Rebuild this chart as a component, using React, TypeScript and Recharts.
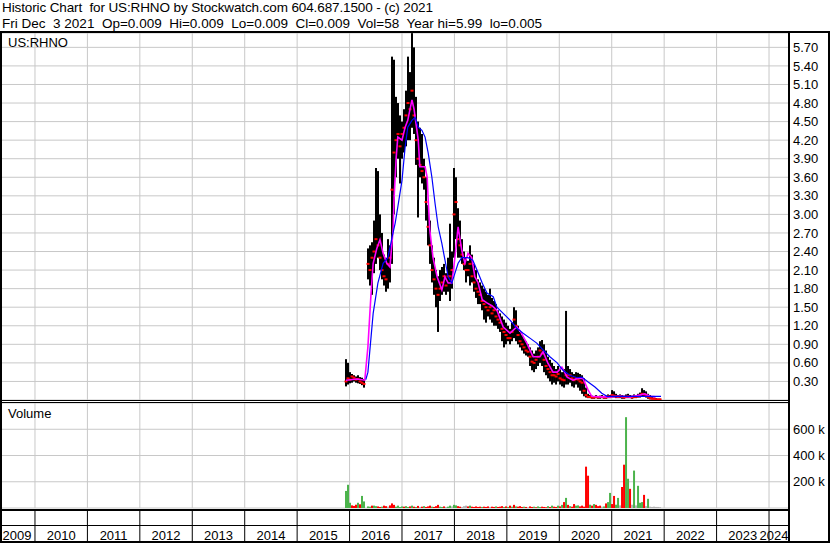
import React from "react";
import {
  ComposedChart,
  Bar,
  Line,
  Scatter,
  XAxis,
  YAxis,
  CartesianGrid,
  Cell,
} from "recharts";

const FONT = "'Liberation Sans', Arial, Helvetica, sans-serif";

// axes
const YEARS = [2010, 2011, 2012, 2013, 2014, 2015, 2016, 2017, 2018, 2019, 2020, 2021, 2022, 2023, 2024];
const PRICE_TICKS = [0.3, 0.6, 0.9, 1.2, 1.5, 1.8, 2.1, 2.4, 2.7, 3.0, 3.3, 3.6, 3.9, 4.2, 4.5, 4.8, 5.1, 5.4, 5.7];
const VOLUME_TICKS = [200, 400, 600];
const X_MIN = 2009.352;
const X_MAX = 2024.381;
const PRICE_MAX = 5.932;
const VOLUME_MAX = 800;

// two-week bars from late Nov 2015 to Dec 3 2021
const FIRST_BAR = 2015.932;
const BAR_STEP = 0.03815;

const HIGH = [
  0.66, 0.6, 0.45, 0.42, 0.4, 0.38, 0.4, 0.37, 0.36, 0.34,
  null, 2.45, 2.5, 2.55, 2.9, 3.75, 3.7, 3.0, 2.7, 2.35,
  2.3, 2.6, 2.5, 5.55, 5.5, 4.9, 4.8, 4.6, 4.5, 4.7,
  5.0, 5.55, 5.3, 5.93, 5.7, 4.9, 4.5, 4.4, 4.3, 3.9,
  3.6, 3.15, 2.9, 2.5, 2.3, 2.1, 2.0, 2.1, 2.15, 2.2,
  2.05, 2.3, 2.85, 2.4, 3.75, 3.6, 3.1, 2.9, 2.6, 2.4,
  2.3, 2.25, 2.5, 2.35, 2.2, 2.1, 1.95, 1.9, 1.85, 1.8,
  1.75, 1.7, 1.8, 1.65, 1.6, 1.55, 1.45, 1.4, 1.35, 1.3,
  1.25, 1.2, 1.15, 1.25, 1.5, 1.45, 1.2, 1.1, 1.05, 1.0,
  0.95, 0.9, 0.85, 0.8, 0.75, 0.8, 0.85, 0.95, 0.97, 0.9,
  0.8, 0.7, 0.65, 0.6, 0.55, 0.5, 0.55, 0.5, 0.45, 0.5,
  1.44, 0.55, 0.5, 0.45, 0.42, 0.45, 0.44, 0.42, 0.4, 0.35,
  0.2, 0.1, 0.08, 0.07, 0.06, 0.08, 0.06, 0.07, 0.08, 0.06,
  0.07, 0.09, 0.08, 0.16, 0.14, 0.1, 0.08, 0.09, 0.08, 0.07,
  0.09, 0.1, 0.08, 0.07, 0.09, 0.08, 0.1, 0.12, 0.19, 0.16,
  0.14, 0.1, 0.08, 0.06, 0.04, 0.03, 0.02, 0.02,
];
const LOW = [
  0.22, 0.25, 0.27, 0.28, 0.3, 0.28, 0.27, 0.26, 0.24, 0.2,
  null, 1.95, 1.85, 1.7, 2.05, 2.2, 2.3, 2.1, 1.95, 1.85,
  1.75, 1.8, 1.9, 2.2, 3.0, 3.6, 3.9, 3.5, 3.9, 4.0,
  4.1, 4.2, 4.2, 4.4, 4.3, 3.8, 2.95, 3.6, 3.5, 3.4,
  2.9, 2.5, 2.2, 1.9, 1.7, 1.5, 1.1, 1.6, 1.7, 1.75,
  1.7, 1.75, 1.6, 1.8, 2.3, 2.6, 2.3, 2.3, 2.2, 2.1,
  1.9, 2.0, 1.85, 1.9, 1.75, 1.65, 1.55, 1.55, 1.45, 1.3,
  1.25, 1.35, 1.3, 1.25, 1.2, 1.2, 1.15, 1.1, 0.95, 0.85,
  0.9, 0.95, 0.9, 0.95, 1.0, 0.95, 0.9, 0.85, 0.8, 0.75,
  0.72, 0.7, 0.55, 0.48, 0.45, 0.5, 0.55, 0.6, 0.55, 0.45,
  0.4, 0.35, 0.3, 0.25, 0.28, 0.25, 0.3, 0.25, 0.22, 0.2,
  0.25, 0.25, 0.28, 0.22, 0.2, 0.25, 0.2, 0.15, 0.1, 0.06,
  0.04, 0.03, 0.03, 0.02, 0.02, 0.03, 0.02, 0.02, 0.03, 0.02,
  0.02, 0.03, 0.03, 0.04, 0.04, 0.03, 0.03, 0.03, 0.02, 0.02,
  0.03, 0.03, 0.03, 0.02, 0.03, 0.03, 0.04, 0.04, 0.05, 0.05,
  0.04, 0.02, 0.01, 0.01, 0.01, 0.01, 0.005, 0.005,
];
const CLOSE = [
  0.3, 0.35, 0.33, 0.38, 0.36, 0.33, 0.34, 0.3, 0.28, 0.26,
  null, 2.2, 2.1, 2.3, 2.4, 2.6, 2.5, 2.3, 2.1, 2.0,
  1.95, 2.2, 2.3, 3.4, 4.0, 4.2, 4.3, 4.1, 4.3, 4.4,
  4.6, 4.8, 4.7, 5.0, 4.6, 4.2, 3.9, 3.8, 3.7, 3.6,
  3.2, 2.8, 2.5, 2.1, 1.95, 1.8, 1.7, 1.8, 1.9, 2.0,
  1.85, 2.0, 2.0, 2.1, 3.0, 3.2, 2.6, 2.5, 2.35, 2.2,
  2.1, 2.1, 2.2, 2.0, 1.9, 1.8, 1.75, 1.7, 1.6, 1.55,
  1.5, 1.45, 1.5, 1.4, 1.45, 1.35, 1.3, 1.25, 1.15, 1.1,
  1.05, 1.0, 1.0, 1.1, 1.3, 1.2, 1.05, 0.95, 0.9, 0.85,
  0.8, 0.78, 0.7, 0.62, 0.6, 0.65, 0.7, 0.8, 0.75, 0.65,
  0.55, 0.5, 0.45, 0.4, 0.4, 0.38, 0.42, 0.35, 0.33, 0.32,
  0.4, 0.4, 0.4, 0.35, 0.32, 0.35, 0.33, 0.3, 0.28, 0.15,
  0.08, 0.05, 0.05, 0.04, 0.04, 0.05, 0.04, 0.05, 0.05, 0.04,
  0.04, 0.06, 0.05, 0.08, 0.07, 0.06, 0.05, 0.06, 0.05, 0.04,
  0.05, 0.06, 0.05, 0.04, 0.05, 0.05, 0.06, 0.08, 0.1, 0.09,
  0.08, 0.05, 0.03, 0.02, 0.02, 0.01, 0.01, 0.01,
];

// volume in thousands; g = up, r = down, n = unchanged
const VOLUME = [
  130, 177, 40, 20, 16, 25, 40, 28, 92, 50,
  0, 12, 10, 18, 18, 14, 12, 8, 10, 18,
  14, 10, 20, 35, 24, 10, 18, 8, 12, 10,
  14, 8, 12, 18, 10, 8, 16, 8, 10, 14,
  8, 12, 18, 10, 8, 14, 24, 10, 8, 12,
  8, 10, 18, 12, 24, 20, 14, 10, 8, 14,
  18, 12, 18, 10, 8, 12, 8, 10, 8, 10,
  8, 12, 8, 10, 8, 12, 8, 10, 14, 8,
  12, 8, 18, 10, 24, 12, 10, 14, 8, 10,
  8, 6, 12, 8, 10, 6, 12, 8, 10, 8,
  6, 14, 8, 18, 10, 8, 18, 12, 24, 45,
  77, 24, 14, 10, 30, 18, 20, 12, 18, 10,
  315, 246, 25, 18, 30, 24, 14, 18, 10, 12,
  35, 45, 115, 30, 92, 25, 77, 20, 160, 330,
  692, 223, 146, 25, 285, 20, 169, 40, 45, 100,
  14, 70, 10, 8, 10, 8, 8, 6,
];
const VOLUME_DIR =
  "gggrrrgrgg" + "nggrggrrgr" + "rnrrrggggr" + "ggrgrgrnrg" +
  "rrrgrrrggr" + "nggnggrrnn" + "nrgrrrrrgr" + "rrnrrgrrrg" +
  "rgrgrgrrrg" + "rnrrgrggrr" + "rgrgrrgrgr" + "grgrrggrrr" +
  "rrgrgrrrng" + "rggrrggnrr" + "ggrngngggr" + "ngnnnnnn";

// moving averages
const FAST_T = [
  2015.93, 2016.14, 2016.29, 2016.35, 2016.41, 2016.45, 2016.52, 2016.58, 2016.64, 2016.71,
  2016.77, 2016.83, 2016.85, 2016.89, 2016.92, 2017.0, 2017.06, 2017.11, 2017.19, 2017.23,
  2017.31, 2017.34, 2017.44, 2017.48, 2017.5, 2017.53, 2017.59, 2017.67, 2017.76, 2017.82,
  2017.88, 2017.95, 2018.01, 2018.07, 2018.14, 2018.2, 2018.26, 2018.33, 2018.39, 2018.45,
  2018.53, 2018.62, 2018.72, 2018.81, 2018.93, 2019.06, 2019.19, 2019.25, 2019.38, 2019.5,
  2019.63, 2019.69, 2019.78, 2019.88, 2019.96, 2020.05, 2020.15, 2020.26, 2020.36, 2020.45,
  2020.55, 2020.62, 2020.78, 2020.97, 2021.16, 2021.35, 2021.54, 2021.63, 2021.73, 2021.84,
];
const FAST_MA = [
  0.32, 0.34, 0.32, 0.86, 1.73, 2.21, 2.45, 2.59, 2.37, 2.21,
  2.15, 2.75, 3.28, 3.93, 4.25, 4.2, 4.41, 4.52, 4.85, 4.7,
  4.2, 3.77, 3.77, 3.6, 3.23, 2.75, 2.31, 1.99, 1.78, 1.99,
  1.89, 1.89, 2.31, 2.8, 2.42, 2.21, 2.37, 2.3, 1.99, 1.9,
  1.62, 1.57, 1.52, 1.45, 1.18, 1.08, 1.18, 1.12, 0.92, 0.7,
  0.7, 0.78, 0.6, 0.45, 0.45, 0.53, 0.37, 0.32, 0.35, 0.35,
  0.16, 0.06, 0.05, 0.05, 0.06, 0.05, 0.08, 0.1, 0.06, 0.05,
];
const SLOW_T = [
  2016.31, 2016.35, 2016.45, 2016.54, 2016.64, 2016.73, 2016.81, 2016.87, 2016.92, 2017.0,
  2017.06, 2017.11, 2017.19, 2017.25, 2017.31, 2017.38, 2017.44, 2017.5, 2017.57, 2017.63,
  2017.69, 2017.76, 2017.82, 2017.88, 2017.95, 2018.01, 2018.07, 2018.14, 2018.26, 2018.35,
  2018.43, 2018.53, 2018.62, 2018.74, 2018.81, 2018.93, 2019.06, 2019.19, 2019.31, 2019.44,
  2019.57, 2019.69, 2019.82, 2019.96, 2020.07, 2020.2, 2020.34, 2020.43, 2020.55, 2020.68,
  2020.81, 2020.91, 2021.35, 2021.94,
];
const SLOW_MA = [
  0.33, 0.45, 1.4, 1.89, 2.21, 2.3, 2.63, 2.86, 3.12, 3.55,
  4.09, 4.41, 4.52, 4.57, 4.41, 4.36, 4.25, 3.99, 3.6, 3.18,
  2.8, 2.53, 2.26, 1.99, 1.89, 2.05, 2.21, 2.3, 2.3, 2.26,
  2.1, 1.89, 1.73, 1.67, 1.5, 1.4, 1.29, 1.16, 1.08, 1.0,
  0.92, 0.81, 0.7, 0.6, 0.48, 0.4, 0.36, 0.37, 0.29, 0.21,
  0.11, 0.06, 0.06, 0.06,
];

const DIR_COLORS: Record<string, string> = { g: "#4cb34c", r: "#ff0000", n: "#b0b0b0" };

// high-low bars: an invisible base (low) stacked with the span up to the high
const priceRows = HIGH.map((h, i) => ({
  t: FIRST_BAR + i * BAR_STEP,
  low: h == null ? null : LOW[i],
  span: h == null ? null : Math.max(h - (LOW[i] as number), 0.012),
  close: CLOSE[i],
}));
const volumeRows = VOLUME.map((v, i) => ({
  t: FIRST_BAR + i * BAR_STEP,
  v,
  dir: VOLUME_DIR[i],
}));
const fastRows = FAST_T.map((t, i) => ({ t, v: FAST_MA[i] }));
const slowRows = SLOW_T.map((t, i) => ({ t, v: SLOW_MA[i] }));

const PLOT_LEFT = 1;
const PLOT_RIGHT = 789;
const AXIS_W = 41;
const YEAR_PX = (PLOT_RIGHT - PLOT_LEFT) / (X_MAX - X_MIN);

const tickStyle = { fontSize: 13, fill: "#000", fontFamily: FONT };

const CloseMark = (p: any) => {
  if (p.cy == null || !Number.isFinite(p.cy)) return <g />;
  return <rect x={p.cx - 1.5} y={p.cy - 1} width={3} height={2} fill="#ff0000" />;
};

const clampLabel = (c: number) => Math.min(Math.max(c, PLOT_LEFT + 16), PLOT_RIGHT - 15);

const YearTick = (p: any) => {
  const x = p.x;
  const year = p.payload.value;
  const labels = [{ text: year - 1, cx: clampLabel(x - YEAR_PX / 2) }];
  if (year === YEARS[YEARS.length - 1]) {
    labels.push({ text: year, cx: clampLabel(x + YEAR_PX / 2) });
  }
  return (
    <g>
      <line x1={x} x2={x} y1={106} y2={138} stroke="#000" strokeWidth={1} />
      {labels.map((l) => (
        <text key={l.text} x={l.cx} y={136.5} textAnchor="middle" {...tickStyle}>
          {l.text}
        </text>
      ))}
    </g>
  );
};

export default function App() {
  return (
    <div
      style={{
        position: "absolute",
        left: 0,
        top: 0,
        width: 830,
        height: 543,
        background: "#fff",
        overflow: "hidden",
      }}
    >
      {/* price bars, closes, grid and price axis */}
      <div style={{ position: "absolute", left: 0, top: 33 }}>
        <ComposedChart
          width={830}
          height={367}
          data={priceRows}
          margin={{ top: 0, right: 0, bottom: 0, left: PLOT_LEFT }}
        >
          <CartesianGrid stroke="#c8c8c8" />
          <XAxis
            dataKey="t"
            type="number"
            domain={[X_MIN, X_MAX]}
            ticks={YEARS}
            allowDataOverflow
            hide
          />
          <YAxis
            orientation="right"
            width={AXIS_W}
            domain={[0, PRICE_MAX]}
            ticks={PRICE_TICKS}
            interval={0}
            allowDataOverflow
            axisLine={false}
            tickLine={false}
            tickSize={0}
            tickMargin={4}
            tick={tickStyle}
            tickFormatter={(v: number) => v.toFixed(2)}
          />
          <Bar dataKey="low" stackId="hl" barSize={2} fill="transparent" isAnimationActive={false} />
          <Bar dataKey="span" stackId="hl" barSize={2} fill="#000" isAnimationActive={false} />
          <Scatter dataKey="close" shape={CloseMark} isAnimationActive={false} />
        </ComposedChart>
      </div>

      {/* moving averages on the same scales */}
      <div style={{ position: "absolute", left: 0, top: 33 }}>
        <ComposedChart
          width={830}
          height={367}
          margin={{ top: 0, right: AXIS_W, bottom: 0, left: PLOT_LEFT }}
        >
          <XAxis dataKey="t" type="number" domain={[X_MIN, X_MAX]} allowDataOverflow hide />
          <YAxis domain={[0, PRICE_MAX]} allowDataOverflow hide />
          <Line
            data={fastRows}
            dataKey="v"
            stroke="#ff00ff"
            strokeWidth={1.6}
            dot={false}
            isAnimationActive={false}
          />
          <Line
            data={slowRows}
            dataKey="v"
            stroke="#0000ff"
            strokeWidth={1.2}
            dot={false}
            isAnimationActive={false}
          />
        </ComposedChart>
      </div>

      <div style={{ position: "absolute", left: 0, top: 403 }}>
        <ComposedChart
          width={830}
          height={140}
          data={volumeRows}
          margin={{ top: 0, right: 0, bottom: 0, left: PLOT_LEFT }}
        >
          <CartesianGrid stroke="#c8c8c8" />
          <XAxis
            dataKey="t"
            type="number"
            domain={[X_MIN, X_MAX]}
            ticks={YEARS}
            interval={0}
            allowDataOverflow
            height={35}
            axisLine={false}
            tickLine={false}
            tick={(p: any) => <YearTick {...p} />}
          />
          <YAxis
            orientation="right"
            width={AXIS_W}
            domain={[0, VOLUME_MAX]}
            ticks={VOLUME_TICKS}
            interval={0}
            allowDataOverflow
            axisLine={false}
            tickLine={false}
            tickSize={0}
            tickMargin={4}
            tick={tickStyle}
            tickFormatter={(v: number) => `${v} k`}
          />
          <Bar dataKey="v" barSize={2} isAnimationActive={false}>
            {volumeRows.map((r, i) => (
              <Cell key={`v-${i}`} fill={DIR_COLORS[r.dir]} />
            ))}
          </Bar>
        </ComposedChart>
      </div>

      <svg
        width={830}
        height={543}
        style={{ position: "absolute", left: 0, top: 0, pointerEvents: "none" }}
        shapeRendering="crispEdges"
      >
        <text
          x={2}
          y={11.7}
          fontSize={13.5}
          fontFamily={FONT}
          fill="#000"
          textLength={431}
          lengthAdjust="spacing"
          style={{ whiteSpace: "pre" }}
        >
          {"Historic Chart  for US:RHNO by Stockwatch.com 604.687.1500 - (c) 2021"}
        </text>
        <text
          x={2}
          y={28}
          fontSize={13.5}
          fontFamily={FONT}
          fill="#000"
          textLength={540}
          lengthAdjust="spacing"
          style={{ whiteSpace: "pre" }}
        >
          {"Fri Dec  3 2021  Op=0.009  Hi=0.009  Lo=0.009  Cl=0.009  Vol=58  Year hi=5.99  lo=0.005"}
        </text>
        <text x={8} y={47} {...tickStyle}>US:RHNO</text>
        <text x={8} y={418} {...tickStyle}>Volume</text>

        <rect x={0} y={31} width={830} height={2} fill="#000" />
        <rect x={0} y={31} width={2} height={512} fill="#000" />
        <rect x={828} y={31} width={2} height={512} fill="#000" />
        <rect x={788} y={31} width={2} height={512} fill="#000" />
        <rect x={0} y={400} width={789} height={1} fill="#000" />
        <rect x={0} y={402} width={789} height={1} fill="#000" />
        <rect x={0} y={509} width={789} height={2} fill="#000" />
        <rect x={0} y={525} width={789} height={1} fill="#000" />
        <rect x={0} y={541} width={830} height={2} fill="#000" />
      </svg>
    </div>
  );
}
